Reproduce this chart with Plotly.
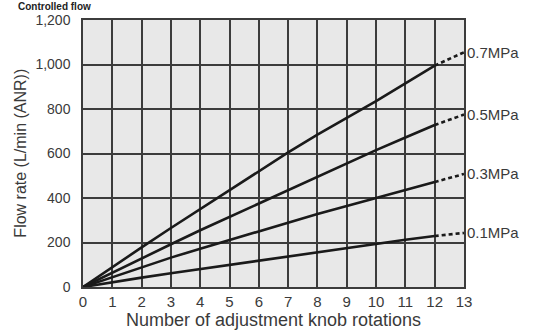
import plotly.graph_objects as go

rotations = [0, 1, 2, 3, 4, 5, 6, 7, 8, 9, 10, 11, 12, 13]
pressures = ['0.7MPa', '0.5MPa', '0.3MPa', '0.1MPa']
flow_07 = [0, 90, 178, 265, 350, 432, 518, 605, 685, 760, 835, 915, 995, 1055]
flow_05 = [0, 65, 130, 192, 255, 315, 378, 438, 497, 556, 615, 672, 728, 775]
flow_03 = [0, 45, 90, 132, 172, 211, 250, 290, 328, 364, 400, 437, 472, 508]
flow_01 = [0, 22, 42, 62, 81, 99, 118, 138, 157, 175, 193, 212, 229, 243]
y_ticks = [0, 200, 400, 600, 800, 1000, 1200]

series = [flow_07, flow_05, flow_03, flow_01]
font = 'Liberation Sans, Arial, sans-serif'
text_col = '#3a3a3a'

fig = go.Figure()
for name, vals in zip(pressures, series):
    # measured part solid, extrapolated part dashed
    fig.add_trace(go.Scatter(x=rotations[:13], y=vals[:13], mode='lines',
                             line=dict(color='#1a1a1a', width=2.6), name=name))
    fig.add_trace(go.Scatter(x=rotations[12:], y=vals[12:], mode='lines',
                             line=dict(color='#1a1a1a', width=2.6, dash='4px,3px'),
                             showlegend=False))
    fig.add_annotation(x=13, y=vals[-1], text=name, showarrow=False,
                       xanchor='left', yanchor='middle', xshift=1,
                       font=dict(family=font, size=15, color=text_col))

fig.add_annotation(x=-0.173, y=1.075, xref='paper', yref='paper', text='<b>Controlled flow</b>',
                   showarrow=False, xanchor='left', yanchor='top', borderpad=0,
                   font=dict(family=font, size=10, color='#222'))
fig.add_annotation(x=-0.165, y=0.5, xref='paper', yref='paper', text='Flow rate (L/min (ANR))',
                   showarrow=False, textangle=-90, xanchor='center', yanchor='middle',
                   font=dict(family=font, size=16, color=text_col))

fig.update_layout(
    width=536, height=331,
    margin=dict(l=83, r=72, t=20, b=44, autoexpand=False),
    paper_bgcolor='white',
    plot_bgcolor='#e8e8e8',
    showlegend=False,
    font=dict(family=font, size=14, color=text_col),
)
fig.update_xaxes(range=[0, 13], tickmode='array', tickvals=rotations,
                 showgrid=True, gridcolor='#3c3c3c', gridwidth=1.5,
                 showline=True, linecolor='#3c3c3c', linewidth=1.5, mirror=True,
                 zeroline=False, ticks='', automargin=False,
                 title=dict(text='Number of adjustment knob rotations', standoff=0,
                            font=dict(size=18)),
                 tickfont=dict(size=15))
fig.update_yaxes(range=[0, 1200], tickmode='array', tickvals=y_ticks,
                 tickformat=',', showgrid=True, gridcolor='#3c3c3c', gridwidth=1.5,
                 showline=True, linecolor='#3c3c3c', linewidth=1.5, mirror=True,
                 zeroline=False, ticks='', ticklabelstandoff=8, automargin=False,
                 tickfont=dict(size=14))

# page default body margin would shift the chart by 8px
fig.write_html("out.html", config={'displayModeBar': False},
               post_script="document.body.style.margin='0';")
